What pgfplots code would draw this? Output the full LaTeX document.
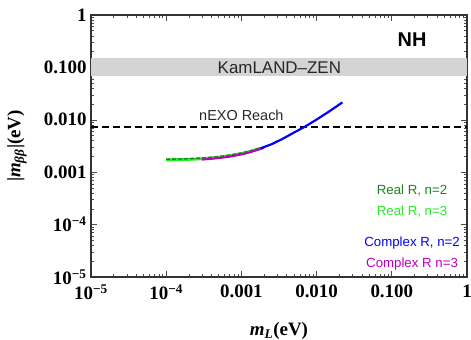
\documentclass[border=0pt]{standalone}
\usepackage{fontspec}
\setmainfont{Liberation Serif}
\setsansfont{Liberation Sans}
\usepackage{pgfplots}
\pgfplotsset{compat=1.18}
\definecolor{dgreen}{RGB}{30,130,30}
\definecolor{lgreen}{RGB}{40,235,40}
\definecolor{cblue}{RGB}{0,0,255}
\definecolor{cmag}{RGB}{190,0,190}
\begin{document}
\begin{tikzpicture}
\begin{axis}[
  scale only axis, width=376bp, height=262bp,
  xmode=log, ymode=log,
  xmin=1e-5, xmax=1, ymin=1e-5, ymax=1,
  xtick={1e-5,1e-4,1e-3,1e-2,1e-1,1},
  xticklabels={10\textsuperscript{−5},10\textsuperscript{−4},0.001,0.010,0.100,1},
  ytick={1e-5,1e-4,1e-3,1e-2,1e-1,1},
  yticklabels={10\textsuperscript{−5},10\textsuperscript{−4},0.001,0.010,0.100,1},
  tick label style={font=\fontsize{19}{19}\selectfont\bfseries},
  x tick label style={yshift=-4bp},
  y tick label style={xshift=-1bp},
  tick align=inside,
  major tick length=6bp, minor tick length=3bp,
  every tick/.style={black!70, line width=0.6bp},
  axis line style={line width=1.3bp, black!80},
  xlabel={\textbf{\textit{m}\textsubscript{\textit{L}}(eV)}},
  ylabel={\textbf{|\textit{m}\textsubscript{\textit{ββ}}|(eV)}},
  every axis x label/.style={at={(axis description cs:0.5,0)}, yshift=-54bp, anchor=center, font=\fontsize{19}{19}\selectfont},
  every axis y label/.style={at={(axis description cs:0,0.5)}, xshift=-74bp, anchor=center, rotate=90, font=\fontsize{19}{19}\selectfont},
  clip=true,
]
% KamLAND-Zen band
\addplot[fill=black!17, draw=none] coordinates {(1e-5,0.0686) (1,0.0686) (1,0.152) (1e-5,0.152)} -- cycle;
% nEXO reach
\addplot[black, line width=2bp, dash pattern=on 7bp off 4bp] coordinates {(1e-5,0.0072) (1,0.0072)};
% Real R, n=3 (lime)
\addplot[lgreen, line width=3bp] coordinates {
(1e-4,0.00172) (1.5e-4,0.00174) (2e-4,0.00176) (3e-4,0.00181) (4e-4,0.00187) (5e-4,0.00193) (7e-4,0.00206) (1e-3,0.00226) (1.3e-3,0.00248) (1.8e-3,0.00286)};
% Real R, n=2 (dark green)
\addplot[dgreen, line width=1.4bp, dash pattern=on 4bp off 2bp] coordinates {
(1e-4,0.00177) (1.5e-4,0.00179) (2e-4,0.00181) (3e-4,0.00187) (4e-4,0.00193) (5e-4,0.00199) (7e-4,0.00212) (1e-3,0.00233) (1.3e-3,0.00255) (1.8e-3,0.00292)};
% Complex R, n=3 (magenta)
\addplot[cmag, line width=2bp] coordinates {
(3e-4,0.00174) (4e-4,0.00180) (5e-4,0.00186) (7e-4,0.00198) (1e-3,0.00218) (1.3e-3,0.00240) (1.8e-3,0.00278) (2e-3,0.00295)};
% Complex R, n=2 (blue)
\addplot[cblue, line width=2.2bp] coordinates {
(1.8e-3,0.00286) (2.5e-3,0.0034) (3.5e-3,0.0043) (5e-3,0.0057) (7e-3,0.0074) (1e-2,0.0101) (1.4e-2,0.0138) (1.8e-2,0.0176) (2.2e-2,0.0215)};
\node[font=\sffamily\fontsize{17}{17}\selectfont, text=black!85] at (axis cs:0.0032,0.1) {KamLAND–ZEN};
\node[font=\sffamily\fontsize{14.5}{14.5}\selectfont, text=black!85] at (axis cs:0.001,0.0124) {nEXO Reach};
\node[font=\sffamily\bfseries\fontsize{20}{20}\selectfont] at (axis cs:0.186,0.333) {NH};
\node[font=\sffamily\fontsize{13.3}{13.3}\selectfont, text=dgreen] at (axis cs:0.186,4.38e-4) {Real R, n=2};
\node[font=\sffamily\fontsize{13.3}{13.3}\selectfont, text=lgreen] at (axis cs:0.186,1.74e-4) {Real R, n=3};
\node[font=\sffamily\fontsize{13.3}{13.3}\selectfont, text=cblue] at (axis cs:0.186,4.45e-5) {Complex R, n=2};
\node[font=\sffamily\fontsize{13.3}{13.3}\selectfont, text=cmag] at (axis cs:0.186,1.78e-5) {Complex R n=3};
\end{axis}
\pgfresetboundingbox
\path[use as bounding box] ([xshift=-91bp,yshift=-63bp]current axis.south west) rectangle ([xshift=4bp,yshift=15bp]current axis.north east);
\end{tikzpicture}
\end{document}
